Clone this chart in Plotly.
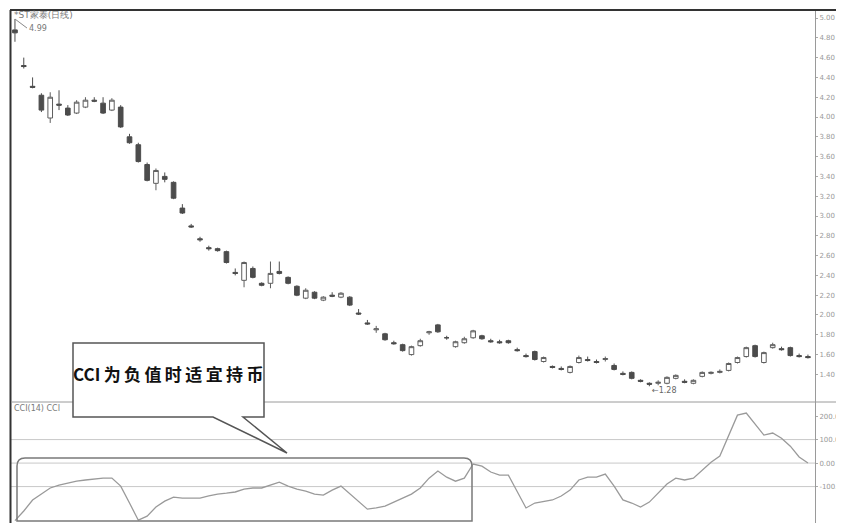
import plotly.graph_objects as go

# The page body has an 8px margin, so the figure starts at (8, 8) in the screenshot.
OFF = 8
W, H = 836, 515
ML, MR, MT, MB = 3, 29, 2, 0

# ---------------- data ----------------
open_ = [4.88, 4.52, 4.31, 4.22, 3.99, 4.13, 4.09, 4.04, 4.10, 4.17,
         4.14, 4.07, 4.10, 3.80, 3.72, 3.52, 3.33, 3.40, 3.34, 3.08,
         2.90, 2.77, 2.68, 2.67, 2.64, 2.43, 2.35, 2.47, 2.32, 2.32,
         2.44, 2.38, 2.29, 2.17, 2.23, 2.15, 2.20, 2.18, 2.18, 2.02,
         1.92, 1.85, 1.81, 1.72, 1.70, 1.60, 1.69, 1.82, 1.90, 1.77,
         1.68, 1.72, 1.77, 1.79, 1.74, 1.73, 1.74, 1.65, 1.59, 1.63,
         1.53, 1.48, 1.46, 1.42, 1.52, 1.55, 1.53, 1.55, 1.49, 1.41,
         1.42, 1.34, 1.31, 1.31, 1.31, 1.36, 1.33, 1.31, 1.38, 1.41,
         1.42, 1.44, 1.52, 1.58, 1.69, 1.52, 1.67, 1.66, 1.67, 1.59, 1.58]
close = [4.85, 4.51, 4.30, 4.07, 4.20, 4.12, 4.02, 4.15, 4.17, 4.16,
         4.04, 4.17, 3.90, 3.74, 3.55, 3.36, 3.46, 3.37, 3.18, 3.03,
         2.89, 2.76, 2.67, 2.65, 2.53, 2.42, 2.53, 2.38, 2.30, 2.42,
         2.42, 2.32, 2.20, 2.25, 2.17, 2.18, 2.19, 2.22, 2.10, 2.01,
         1.91, 1.86, 1.75, 1.71, 1.64, 1.68, 1.74, 1.83, 1.83, 1.77,
         1.73, 1.76, 1.84, 1.76, 1.73, 1.72, 1.72, 1.64, 1.58, 1.55,
         1.57, 1.47, 1.45, 1.48, 1.57, 1.54, 1.52, 1.56, 1.45, 1.40,
         1.36, 1.33, 1.30, 1.32, 1.37, 1.39, 1.32, 1.34, 1.42, 1.42,
         1.43, 1.51, 1.57, 1.67, 1.58, 1.62, 1.70, 1.65, 1.59, 1.58, 1.57]
high = [4.99, 4.60, 4.40, 4.24, 4.25, 4.27, 4.12, 4.17, 4.20, 4.20,
        4.20, 4.19, 4.12, 3.83, 3.74, 3.54, 3.48, 3.44, 3.35, 3.12,
        2.92, 2.79, 2.70, 2.68, 2.65, 2.47, 2.54, 2.49, 2.33, 2.54,
        2.54, 2.39, 2.30, 2.27, 2.24, 2.19, 2.23, 2.23, 2.19, 2.06,
        1.95, 1.89, 1.82, 1.74, 1.71, 1.69, 1.76, 1.84, 1.91, 1.79,
        1.74, 1.78, 1.85, 1.80, 1.76, 1.75, 1.75, 1.67, 1.61, 1.64,
        1.58, 1.49, 1.48, 1.49, 1.59, 1.58, 1.55, 1.58, 1.51, 1.43,
        1.43, 1.35, 1.32, 1.34, 1.38, 1.40, 1.35, 1.35, 1.43, 1.43,
        1.45, 1.52, 1.58, 1.68, 1.70, 1.63, 1.72, 1.68, 1.68, 1.61, 1.60]
low = [4.76, 4.49, 4.29, 4.05, 3.94, 4.07, 4.01, 4.03, 4.09, 4.15,
       4.03, 4.06, 3.89, 3.73, 3.54, 3.35, 3.26, 3.34, 3.17, 3.02,
       2.88, 2.74, 2.65, 2.64, 2.52, 2.40, 2.28, 2.37, 2.29, 2.27,
       2.41, 2.31, 2.19, 2.16, 2.16, 2.14, 2.18, 2.17, 2.09, 2.00,
       1.90, 1.82, 1.74, 1.70, 1.63, 1.59, 1.68, 1.80, 1.82, 1.75,
       1.67, 1.71, 1.76, 1.75, 1.72, 1.71, 1.71, 1.63, 1.57, 1.54,
       1.52, 1.46, 1.44, 1.41, 1.51, 1.53, 1.51, 1.53, 1.44, 1.39,
       1.35, 1.32, 1.28, 1.29, 1.30, 1.35, 1.31, 1.30, 1.37, 1.40,
       1.41, 1.43, 1.51, 1.57, 1.57, 1.51, 1.66, 1.64, 1.58, 1.57, 1.56]
cci = [-245, -204, -157, -132, -106, -94, -85, -77, -72, -68,
       -64, -64, -98, -170, -243, -226, -187, -162, -145, -149,
       -149, -149, -140, -132, -128, -123, -111, -106, -106, -94,
       -81, -98, -111, -119, -132, -136, -115, -98, -132, -166,
       -196, -191, -183, -166, -149, -132, -106, -64, -34, -60,
       -77, -64, -4, -13, -38, -51, -51, -119, -191, -170,
       -162, -157, -140, -115, -72, -60, -60, -47, -98, -157,
       -170, -187, -166, -128, -89, -64, -72, -64, -30, 4,
       30, 115, 204, 213, 166, 119, 128, 106, 72, 26, 0]
bars = list(range(len(close)))

price_ticks = [5.00, 4.80, 4.60, 4.40, 4.20, 4.00, 3.80, 3.60, 3.40, 3.20,
               3.00, 2.80, 2.60, 2.40, 2.20, 2.00, 1.80, 1.60, 1.40]
cci_ticks = [200, 100, 0, -100]
cci_labels = ["200.0", "100.0", "0.00", "-100.0"]
cci_grid = [100, 0, -100]

title_text = "*ST家泰(日线)"
cci_title = "CCI(14) CCI"
callout_text = "CCI\u2009" + "\u2009".join("为负值时适宜持币")


# ------------- helpers: screenshot pixel -> paper (decorations only) -------------
def px(x):
    return (x - OFF - ML) / (W - ML - MR)


def py(y):
    return (H - MB - (y - OFF)) / (H - MT - MB)


fig = go.Figure()

fig.add_trace(go.Candlestick(
    x=bars, open=open_, high=high, low=low, close=close,
    xaxis="x", yaxis="y",
    increasing=dict(fillcolor="#ffffff", line=dict(color="#5e5e5e", width=1)),
    decreasing=dict(fillcolor="#4c4c4c", line=dict(color="#4c4c4c", width=1)),
    whiskerwidth=0, showlegend=False, hoverinfo="skip",
))

fig.add_trace(go.Scatter(
    x=bars, y=cci, mode="lines", xaxis="x2", yaxis="y2",
    line=dict(color="#9a9a9a", width=1.3), showlegend=False, hoverinfo="skip",
))

split = py(402)

shapes = []
for v in cci_grid:
    shapes.append(dict(type="line", xref="paper", yref="y2", x0=0, x1=1, y0=v, y1=v,
                       line=dict(color="#c8c8c8", width=1), layer="below"))
# frame
shapes.append(dict(type="line", xref="paper", yref="paper", x0=px(10), x1=px(844),
                   y0=py(10), y1=py(10), line=dict(color="#333333", width=2)))
shapes.append(dict(type="rect", xref="paper", yref="paper", x0=px(9.5), x1=px(11.5),
                   y0=py(523), y1=py(10), line=dict(width=0), fillcolor="#333333"))
shapes.append(dict(type="line", xref="paper", yref="paper", x0=px(11), x1=px(844),
                   y0=split, y1=split, line=dict(color="#9a9a9a", width=1)))

# rounded rectangle around part of the CCI panel
rr = (f"M {px(17)},{py(521)} L {px(17)},{py(466)} Q {px(17)},{py(458)} {px(25)},{py(458)} "
      f"L {px(464)},{py(458)} Q {px(472)},{py(458)} {px(472)},{py(466)} "
      f"L {px(472)},{py(521)} Z")
shapes.append(dict(type="path", xref="paper", yref="paper", path=rr,
                   line=dict(color="#7a7a7a", width=1.5), layer="above"))

# callout box with tail
cb = (f"M {px(213)},{py(417)} L {px(73)},{py(417)} L {px(73)},{py(343)} "
      f"L {px(264)},{py(343)} L {px(264)},{py(417)} L {px(243)},{py(417)} "
      f"L {px(287)},{py(453)} Z")
shapes.append(dict(type="path", xref="paper", yref="paper", path=cb,
                   fillcolor="#ffffff", line=dict(color="#555555", width=1.5), layer="above"))

hi_idx = max(bars, key=lambda i: high[i])
lo_idx = min(bars, key=lambda i: low[i])

annotations = [
    dict(xref="paper", yref="paper", x=px(12), y=py(15), xanchor="left", yanchor="middle",
         text=title_text, showarrow=False, font=dict(size=9, color="#7a7a7a")),
    dict(xref="x", yref="y", x=hi_idx, y=high[hi_idx], text=f"{high[hi_idx]:.2f}",
         showarrow=True, arrowhead=0, arrowwidth=1, arrowcolor="#888888", ax=12, ay=9,
         xanchor="left", font=dict(size=8, color="#777777")),
    dict(xref="x", yref="y", x=lo_idx, y=low[lo_idx], text=f"←{low[lo_idx]:.2f}",
         showarrow=False, xanchor="left", yanchor="middle", xshift=1, yshift=-4,
         font=dict(size=8, color="#666666")),
    dict(xref="paper", yref="paper", x=px(12), y=py(408), xanchor="left", yanchor="middle",
         text=cci_title, showarrow=False, font=dict(size=8, color="#7a7a7a")),
    dict(xref="paper", yref="paper", x=px(168), y=py(373), xanchor="center", yanchor="middle",
         text=f"<b>{callout_text}</b>", showarrow=False,
         font=dict(size=17, color="#111111", family="Noto Sans CJK SC")),
]

axis_common = dict(showgrid=False, zeroline=False)

fig.update_layout(
    width=W, height=H,
    margin=dict(l=ML, r=MR, t=MT, b=MB),
    paper_bgcolor="#ffffff", plot_bgcolor="#ffffff",
    font=dict(family="DejaVu Sans", color="#888888"),
    xaxis=dict(domain=[0, 1], range=[-0.45, 90.8], anchor="y", showticklabels=False,
               rangeslider=dict(visible=False), ticks="", showline=False, **axis_common),
    xaxis2=dict(domain=[0, 1], range=[-0.45, 90.8], anchor="y2", matches="x",
                showticklabels=False, ticks="", showline=False, **axis_common),
    yaxis=dict(domain=[split, 1], range=[1.121, 5.081], side="right", anchor="x",
               tickvals=price_ticks, ticktext=[f"{v:.2f}" for v in price_ticks],
               ticks="outside", ticklen=2, tickcolor="#aaaaaa",
               tickfont=dict(size=7, color="#999999"),
               showline=True, linecolor="#9a9a9a", linewidth=1, **axis_common),
    yaxis2=dict(domain=[0, split], range=[-255, 260], side="right", anchor="x2",
                tickvals=cci_ticks, ticktext=cci_labels,
                ticks="outside", ticklen=2, tickcolor="#aaaaaa",
                tickfont=dict(size=7, color="#999999"),
                showline=True, linecolor="#9a9a9a", linewidth=1, **axis_common),
    shapes=shapes,
    annotations=annotations,
    boxgap=0.25,
)

fig.write_html("out.html")
